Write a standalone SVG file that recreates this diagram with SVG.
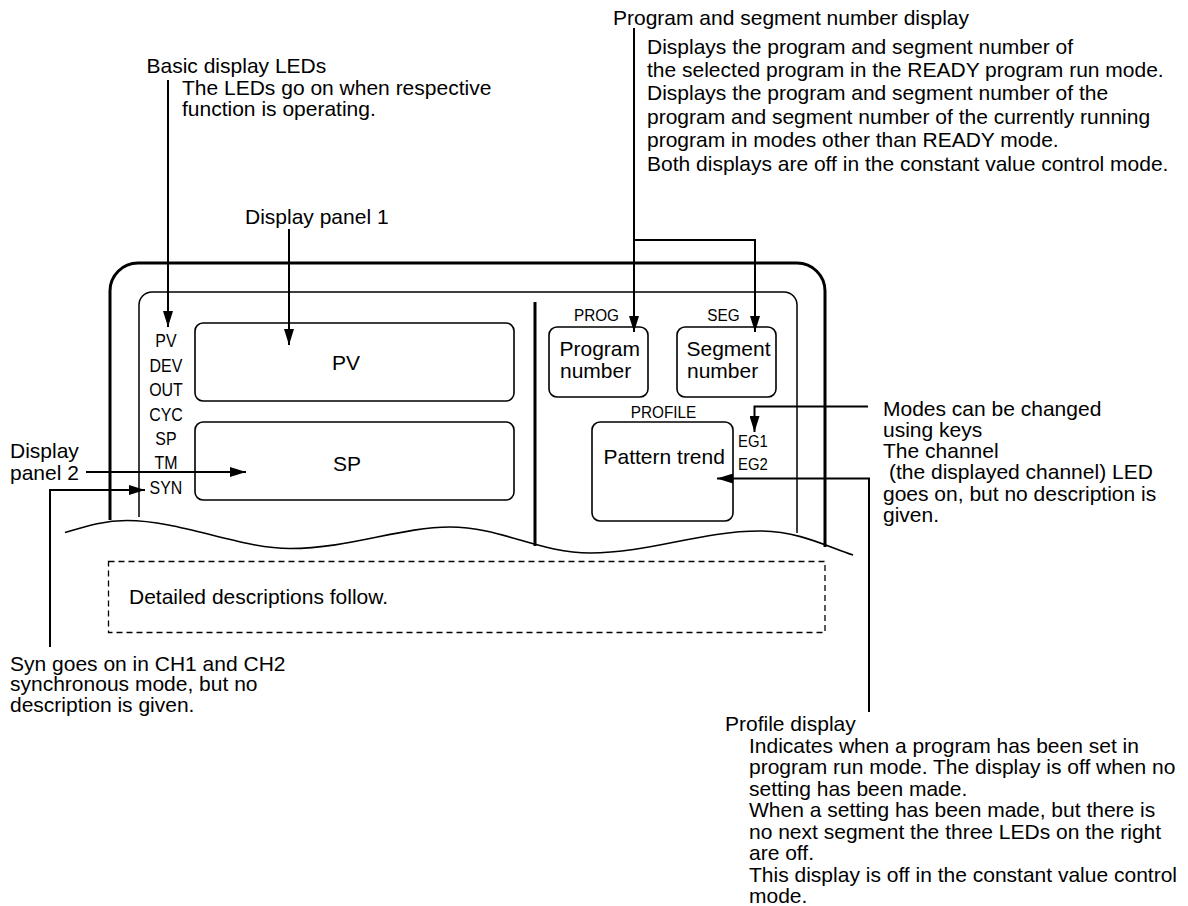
<svg xmlns="http://www.w3.org/2000/svg" width="1188" height="906" viewBox="0 0 1188 906">
  <style>
    text { font-family: "Liberation Sans", Arial, Helvetica, sans-serif; fill: #000; }
    .t { font-size: 21px; }
    .led { font-size: 19px; }
    .lab { font-size: 17px; }
    .eg { font-size: 16px; }
    .box { fill: #fff; stroke: #000; stroke-width: 1.6; }
    .frame { fill: none; stroke: #000; stroke-width: 3; }
    .inner { fill: none; stroke: #000; stroke-width: 1.5; }
    .conn { fill: none; stroke: #000; stroke-width: 2; }
    .dash { fill: none; stroke: #000; stroke-width: 1.3; stroke-dasharray: 6 4; }
  </style>
  <defs>
    <marker id="ah" markerUnits="userSpaceOnUse" markerWidth="16" markerHeight="10" refX="16" refY="5" orient="auto">
      <path d="M0,0 L16,5 L0,10 z" fill="#000"/>
    </marker>
  </defs>
  <rect x="0" y="0" width="1188" height="906" fill="#fff"/>

  <g id="device-frame">
    <path class="frame" d="M110,520 V291 A28,28 0 0 1 138,263 H797 A28,28 0 0 1 825,291 V547"/>
    <path class="inner" d="M139,517 V305 A13,13 0 0 1 152,292 H784 A13,13 0 0 1 797,305 V533"/>
    <path class="frame" d="M535,302 V546"/>
    <path fill="none" stroke="#000" stroke-width="1.6" d="M65,532.5 C90,525 105,520.5 127,520.5 C180,520.5 240,548.5 290,548.5 C350,548.5 400,527 450,527 C500,527 540,553 590,553 C650,553 700,531 760,531 C800,531 830,548 853,555"/>
  </g>

  <g id="led-labels" class="led" transform="translate(166,0) scale(0.84,1)">
    <text x="0" y="347.5" text-anchor="middle">PV</text>
    <text x="0" y="371.9" text-anchor="middle">DEV</text>
    <text x="0" y="396.3" text-anchor="middle">OUT</text>
    <text x="0" y="420.7" text-anchor="middle">CYC</text>
    <text x="0" y="445.1" text-anchor="middle">SP</text>
    <text x="0" y="469.5" text-anchor="middle">TM</text>
    <text x="0" y="493.9" text-anchor="middle">SYN</text>
  </g>

  <g id="pv-display">
    <rect class="box" x="195" y="323" width="319" height="78" rx="8"/>
    <text class="t" x="346" y="370" text-anchor="middle">PV</text>
  </g>
  <g id="sp-display">
    <rect class="box" x="195" y="422" width="319" height="78" rx="8"/>
    <text class="t" x="347" y="470.5" text-anchor="middle">SP</text>
  </g>

  <g id="program-number">
    <text class="lab" transform="translate(596.5,321) scale(0.9,1)" text-anchor="middle">PROG</text>
    <rect class="box" x="549" y="327" width="99" height="70" rx="8"/>
    <text class="t" x="559.5" y="356">Program</text>
    <text class="t" x="560" y="377.5">number</text>
  </g>
  <g id="segment-number">
    <text class="lab" transform="translate(723.5,321) scale(0.9,1)" text-anchor="middle">SEG</text>
    <rect class="box" x="677" y="327" width="99" height="70" rx="8"/>
    <text class="t" x="686.5" y="356">Segment</text>
    <text class="t" x="687" y="377.5">number</text>
  </g>
  <g id="profile-display">
    <text class="lab" transform="translate(663.5,418) scale(0.9,1)" text-anchor="middle">PROFILE</text>
    <rect class="box" x="592" y="422" width="141" height="99" rx="8"/>
    <text class="t" x="603.5" y="463.5">Pattern trend</text>
  </g>
  <g id="eg-leds" class="eg">
    <text transform="translate(738,447) scale(0.93,1)">EG1</text>
    <text transform="translate(738,470) scale(0.93,1)">EG2</text>
  </g>

  <g id="detail-box">
    <rect class="dash" x="108.5" y="561.5" width="716.5" height="71"/>
    <text class="t" x="129" y="604">Detailed descriptions follow.</text>
  </g>

  <g id="connectors">
    <path class="conn" d="M168,80 V327" marker-end="url(#ah)"/>
    <path class="conn" d="M289,229 V345" marker-end="url(#ah)"/>
    <path class="conn" d="M86,472 H246" marker-end="url(#ah)"/>
    <path class="conn" d="M50,647 V490 H145" marker-end="url(#ah)"/>
    <path class="conn" d="M634,28 V332" marker-end="url(#ah)"/>
    <path class="conn" d="M634,240 H755 V332" marker-end="url(#ah)"/>
    <path class="conn" d="M868,406.5 H754.5 V432" marker-end="url(#ah)"/>
    <path class="conn" d="M869,712 V478.5 H717" marker-end="url(#ah)"/>
  </g>

  <g id="note-basic-leds" class="t">
    <text x="146.5" y="73">Basic display LEDs</text>
    <text x="182" y="94.5">The LEDs go on when respective</text>
    <text x="182" y="115.5">function is operating.</text>
  </g>
  <g id="note-display-panel-1" class="t">
    <text x="245" y="223.5">Display panel 1</text>
  </g>
  <g id="note-display-panel-2" class="t">
    <text x="10" y="457.5">Display</text>
    <text x="10" y="479.5">panel 2</text>
  </g>
  <g id="note-syn" class="t">
    <text x="10" y="670.5">Syn goes on in CH1 and CH2</text>
    <text x="10" y="691.2">synchronous mode, but no</text>
    <text x="10" y="712">description is given.</text>
  </g>
  <g id="note-prog-seg" class="t">
    <text x="613" y="24.5">Program and segment number display</text>
    <text x="647" y="53.5">Displays the program and segment number of</text>
    <text x="647" y="76.9">the selected program in the READY program run mode.</text>
    <text x="647" y="100.3">Displays the program and segment number of the</text>
    <text x="647" y="123.7">program and segment number of the currently running</text>
    <text x="647" y="147.1">program in modes other than READY mode.</text>
    <text x="647" y="170.5">Both displays are off in the constant value control mode.</text>
  </g>
  <g id="note-modes" class="t">
    <text x="883" y="415.5">Modes can be changed</text>
    <text x="883" y="436.8">using keys</text>
    <text x="883" y="458.1">The channel</text>
    <text x="889" y="479.4">(the displayed channel) LED</text>
    <text x="883" y="500.7">goes on, but no description is</text>
    <text x="883" y="522">given.</text>
  </g>
  <g id="note-profile" class="t">
    <text x="725" y="731">Profile display</text>
    <text x="749" y="752.5">Indicates when a program has been set in</text>
    <text x="749" y="774">program run mode. The display is off when no</text>
    <text x="749" y="795.5">setting has been made.</text>
    <text x="749" y="817">When a setting has been made, but there is</text>
    <text x="749" y="838.5">no next segment the three LEDs on the right</text>
    <text x="749" y="860">are off.</text>
    <text x="749" y="881.5">This display is off in the constant value control</text>
    <text x="749" y="903">mode.</text>
  </g>
</svg>
